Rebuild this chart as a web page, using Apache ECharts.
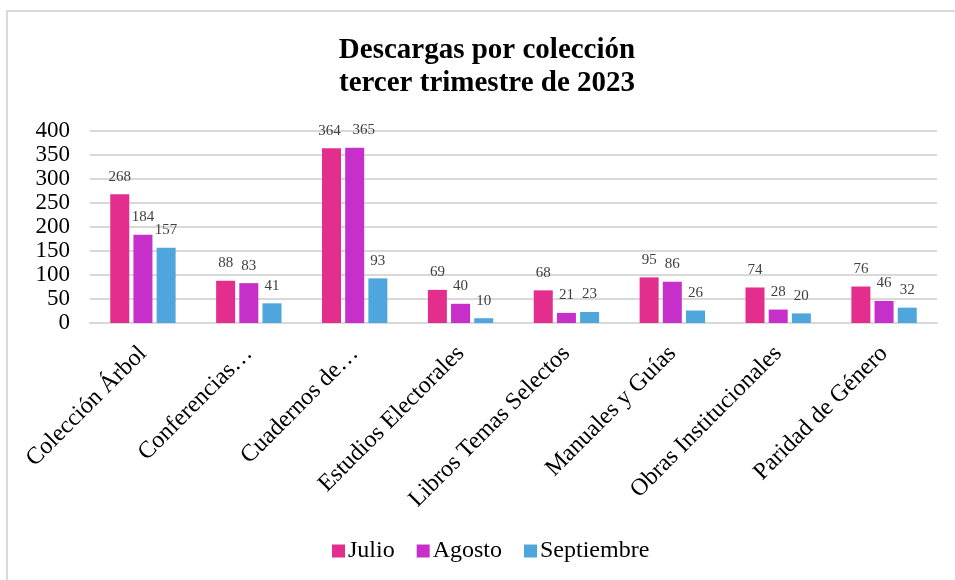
<!DOCTYPE html>
<html>
<head>
<meta charset="utf-8">
<script src="https://cdn.jsdelivr.net/npm/echarts@6/dist/echarts.min.js"></script>
<style>
  html, body { margin: 0; padding: 0; background: #fff; }
  #chart { width: 955px; height: 580px; }
</style>
</head>
<body>
<div id="chart"></div>
<script>
const categories = ['Colección Árbol', 'Conferencias…', 'Cuadernos de…', 'Estudios Electorales',
  'Libros Temas Selectos', 'Manuales y Guías', 'Obras Institucionales', 'Paridad de Género']
const julio = [268, 88, 364, 69, 68, 95, 74, 76]
const agosto = [184, 83, 365, 40, 21, 86, 28, 46]
const septiembre = [157, 41, 93, 10, 23, 26, 20, 32]
const yTicks = [0, 50, 100, 150, 200, 250, 300, 350, 400]

const serif = '"Liberation Serif", "Times New Roman", serif'
const colors = ['#e32e8e', '#c62fc9', '#4fa6dc']

const chart = echarts.init(document.getElementById('chart'))

function bar(name, data, color, layout) {
  return {
    name,
    type: 'bar',
    data,
    barWidth: 19,
    barGap: '22%',
    itemStyle: { color },
    label: {
      show: true,
      position: 'top',
      distance: 10,
      color: '#404040',
      fontFamily: serif,
      fontSize: 15
    },
    labelLayout: layout
  }
}

// Excel nudges the crowded labels over "Cuadernos de…" apart
const nudge = dx => params => (params.dataIndex === 2 ? { dx } : {})

chart.setOption({
  animation: false,
  title: {
    text: 'Descargas por colección\ntercer trimestre de 2023',
    left: 482,
    textAlign: 'center',
    top: 29,
    textStyle: {
      fontFamily: serif,
      fontWeight: 'bold',
      fontSize: 29,
      lineHeight: 33,
      color: '#000'
    }
  },
  graphic: [{
    type: 'rect',
    shape: { x: 7, y: 11, width: 1000, height: 700 },
    style: { fill: 'none', stroke: '#d9d9d9', lineWidth: 2 }
  }],
  legend: {
    bottom: 12,
    left: 327,
    itemWidth: 13,
    itemHeight: 13,
    itemGap: 22,
    icon: 'rect',
    textStyle: { fontFamily: serif, fontSize: 24, color: '#000', padding: [0, 0, 0, -2] }
  },
  grid: { left: 90, right: 18, top: 131, bottom: 257 },
  xAxis: {
    type: 'category',
    data: categories,
    axisLine: { lineStyle: { color: '#d9d9d9', width: 2 } },
    axisTick: { show: false },
    axisLabel: {
      rotate: 45,
      interval: 0,
      margin: 27,
      fontFamily: serif,
      fontSize: 24,
      color: '#000'
    }
  },
  yAxis: {
    type: 'value',
    min: yTicks[0],
    max: yTicks[yTicks.length - 1],
    interval: 50,
    axisLine: { show: false },
    axisTick: { show: false },
    splitLine: { lineStyle: { color: '#d9d9d9', width: 2 } },
    axisLabel: {
      margin: 20,
      fontFamily: serif,
      fontSize: 23,
      color: '#000'
    }
  },
  series: [
    bar('Julio', julio, colors[0], nudge(-2)),
    bar('Agosto', agosto, colors[1], nudge(9)),
    bar('Septiembre', septiembre, colors[2])
  ]
})
</script>
</body>
</html>
